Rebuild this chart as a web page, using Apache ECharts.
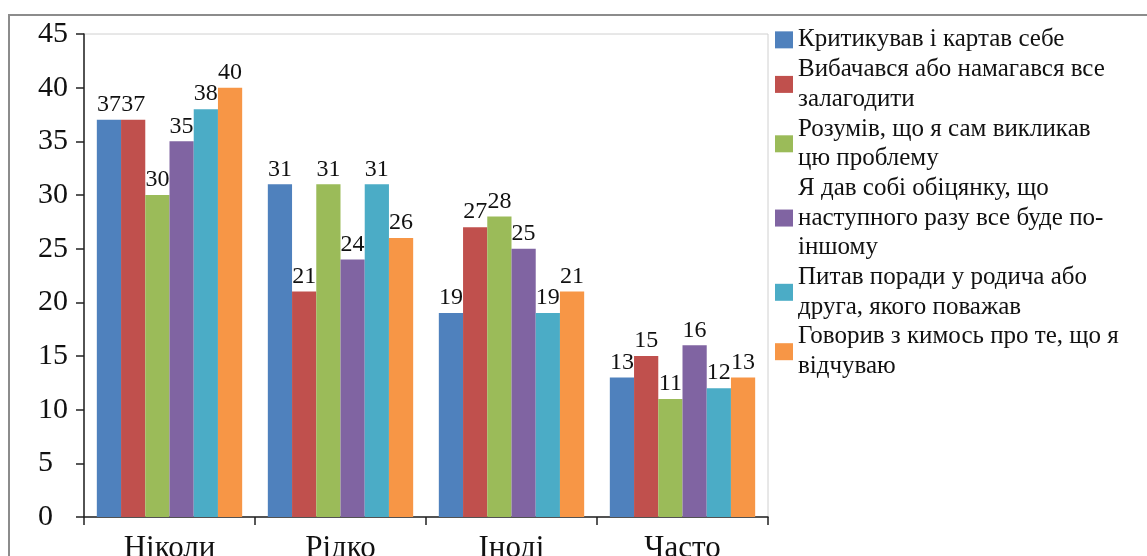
<!DOCTYPE html>
<html>
<head>
<meta charset="utf-8">
<script src="https://cdn.jsdelivr.net/npm/echarts@6/dist/echarts.min.js"></script>
<style>
html,body{margin:0;padding:0;background:#fff;}
#c{width:1147px;height:556px;}
</style>
</head>
<body>
<div id="c"></div>
<script>
const categories = ['Ніколи', 'Рідко', 'Іноді', 'Часто'];
const seriesNames = [
  'Критикував і картав себе',
  'Вибачався або намагався все\nзалагодити',
  'Розумів, що я сам викликав\nцю проблему',
  'Я дав собі обіцянку, що\nнаступного разу все буде по-\nіншому',
  'Питав поради у родича або\nдруга, якого поважав',
  'Говорив з кимось про те, що я\nвідчуваю'
];
const s1 = [37, 31, 19, 13];
const s2 = [37, 21, 27, 15];
const s3 = [30, 31, 28, 11];
const s4 = [35, 24, 25, 16];
const s5 = [38, 31, 19, 12];
const s6 = [40, 26, 21, 13];
const yTicks = [0, 5, 10, 15, 20, 25, 30, 35, 40, 45];
const colors = ['#4F81BD', '#C0504D', '#9BBB59', '#8064A2', '#4BACC6', '#F79646'];

const allValues = [s1, s2, s3, s4, s5, s6];
const FONT = '"Liberation Serif", "Times New Roman", serif';

const chart = echarts.init(document.getElementById('c'), null, {renderer: 'canvas'});
chart.setOption({
  animation: false,
  color: colors,
  textStyle: {fontFamily: FONT},
  graphic: [{
    type: 'rect',
    shape: {x: 9, y: 15, width: 1160, height: 600},
    style: {fill: 'none', stroke: '#8c8c8c', lineWidth: 2},
    z: -1
  }],
  grid: {
    left: 84, right: 379, top: 34, bottom: 39,
    containLabel: false,
    outerBoundsMode: 'none',
    show: true, borderColor: '#d0d0d0', borderWidth: 1, backgroundColor: 'transparent'
  },
  legend: {
    orient: 'vertical',
    left: 775,
    top: 25,
    padding: 0,
    itemGap: 0,
    itemWidth: 18,
    itemHeight: 17,
    icon: 'rect',
    data: seriesNames,
    textStyle: {fontFamily: FONT, fontSize: 25, lineHeight: 29.7, color: '#111', padding: [0, 0, 0, 0]}
  },
  xAxis: {
    type: 'category',
    data: categories,
    axisLine: {lineStyle: {color: '#222', width: 1.5}},
    axisTick: {show: true, length: 8, inside: false, lineStyle: {color: '#222', width: 1.5}},
    axisLabel: {fontFamily: FONT, fontSize: 31, color: '#111', margin: 16}
  },
  yAxis: {
    type: 'value',
    min: yTicks[0],
    max: yTicks[yTicks.length - 1],
    interval: 5,
    axisLine: {show: true, lineStyle: {color: '#222', width: 1.5}},
    axisTick: {show: true, length: 8, lineStyle: {color: '#222', width: 1.5}},
    splitLine: {show: false},
    axisLabel: {fontFamily: FONT, fontSize: 30, color: '#111', margin: 46, align: 'left'}
  },
  series: seriesNames.map((name, i) => ({
    name: name,
    type: 'bar',
    data: allValues[i],
    barGap: '0%',
    barCategoryGap: '15%',
    itemStyle: {color: colors[i]},
    label: {show: true, position: 'top', distance: 3, fontFamily: FONT, fontSize: 24, color: '#111'}
  }))
});
</script>
</body>
</html>
